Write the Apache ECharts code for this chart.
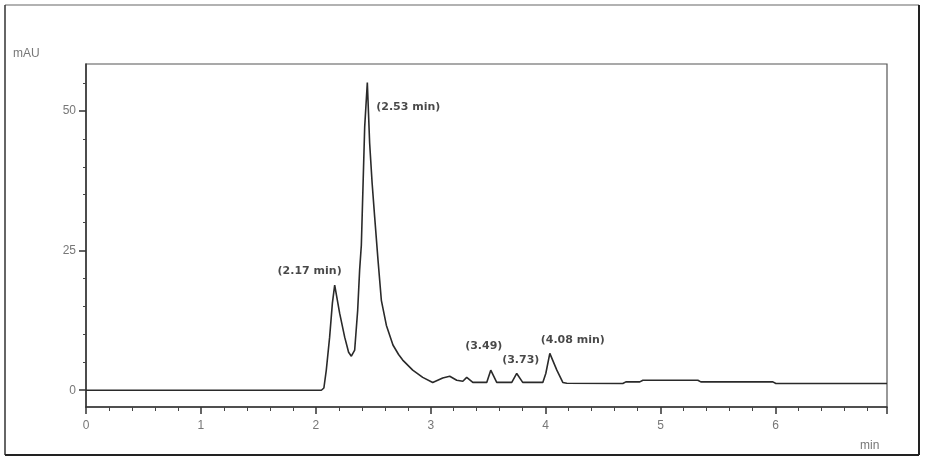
<!DOCTYPE html>
<html>
<head>
<meta charset="utf-8">
<script src="https://cdn.jsdelivr.net/npm/echarts@6/dist/echarts.min.js"></script>
<style>
html,body{margin:0;padding:0;background:#fff;}
#c{width:925px;height:459px;}
</style>
</head>
<body>
<div id="c"></div>
<script>
// Chromatogram trace: time (min) and absorbance (mAU)
var times = [0, 2.048, 2.07, 2.091, 2.12, 2.144, 2.164, 2.207, 2.251, 2.285, 2.309, 2.338, 2.364, 2.381, 2.396, 2.425, 2.448, 2.468, 2.490, 2.512, 2.541, 2.570, 2.614, 2.671, 2.72, 2.756, 2.843, 2.930, 3.017, 3.104, 3.165, 3.226, 3.279, 3.313, 3.366, 3.487, 3.522, 3.574, 3.705, 3.748, 3.800, 3.975, 4.001, 4.036, 4.097, 4.149, 4.184, 4.671, 4.698, 4.819, 4.846, 5.324, 5.350, 5.977, 6.003, 6.970];
var signal = [0, 0, 0.4, 3.6, 9.5, 15.6, 18.8, 13.8, 9.5, 6.8, 6.1, 7.2, 14.3, 21.5, 26.0, 47.1, 55.1, 44.3, 37.0, 31.0, 23.3, 16.1, 11.6, 8.1, 6.4, 5.4, 3.6, 2.3, 1.4, 2.2, 2.5, 1.8, 1.6, 2.3, 1.4, 1.4, 3.6, 1.4, 1.4, 3.0, 1.4, 1.4, 3.0, 6.6, 3.6, 1.4, 1.25, 1.2, 1.5, 1.5, 1.8, 1.8, 1.5, 1.5, 1.2, 1.2];

// Peak annotations
var annTexts = ['(2.17 min)', '(2.53 min)', '(3.49)', '(3.73)', '(4.08 min)'];
var annTimes = [1.946, 2.804, 3.461, 3.783, 4.236];
var annValues = [21.4, 50.6, 7.9, 5.4, 8.9];

// Axis ticks
var xTickInterval = 1;
var yMajorTicks = [0, 25, 50];
var yMinorTicks = [5, 10, 15, 20, 30, 35, 40, 45, 55];

var traceData = times.map(function (t, i) { return [t, signal[i]]; });
var annData = annTexts.map(function (s, i) { return { name: s, value: [annTimes[i], annValues[i]] }; });

var chart = echarts.init(document.getElementById('c'), null, { renderer: 'canvas' });
var axisColor = '#333';
var labelColor = '#777';
chart.setOption({
  animation: false,
  backgroundColor: '#fff',
  grid: {
    left: 86, top: 64, right: 38, bottom: 52,
    show: true, borderColor: '#555', borderWidth: 1.2,
    containLabel: false, outerBoundsMode: 'none'
  },
  xAxis: {
    type: 'value', min: 0, max: 6.97, interval: xTickInterval,
    axisLine: { show: true, onZero: false, lineStyle: { color: axisColor, width: 1.5 } },
    axisTick: { show: true, length: 7, lineStyle: { color: axisColor, width: 1.5 } },
    minorTick: { show: true, splitNumber: 5, length: 4, lineStyle: { color: '#444', width: 1 } },
    splitLine: { show: false },
    minorSplitLine: { show: false },
    axisLabel: { showMaxLabel: false, margin: 13, color: labelColor, fontSize: 12, fontFamily: 'Liberation Sans' }
  },
  yAxis: [{
    type: 'value', min: -3, max: 58.4,
    axisLine: { show: true, lineStyle: { color: axisColor, width: 1.5 } },
    axisTick: { show: true, customValues: yMajorTicks, length: 7, lineStyle: { color: axisColor, width: 1.5 } },
    axisLabel: { customValues: yMajorTicks, margin: 10, color: labelColor, fontSize: 12, fontFamily: 'Liberation Sans' },
    splitLine: { show: false }
  }, {
    type: 'value', min: -3, max: 58.4, position: 'left',
    axisLine: { show: false },
    axisTick: { show: true, customValues: yMinorTicks, length: 3, lineStyle: { color: '#444', width: 1 } },
    axisLabel: { show: false },
    splitLine: { show: false }
  }],
  series: [{
    type: 'line',
    data: traceData,
    showSymbol: false,
    symbol: 'none',
    smooth: false,
    lineStyle: { color: '#2a2a2a', width: 1.6 },
    silent: true,
    z: 3
  }, {
    type: 'scatter',
    data: annData,
    symbolSize: 1,
    itemStyle: { color: 'rgba(0,0,0,0)' },
    silent: true,
    label: {
      show: true, position: 'inside', formatter: '{b}',
      color: '#1a1a1a', fontSize: 11, fontWeight: 'bold', fontFamily: 'DejaVu Sans'
    },
    z: 5
  }],
  graphic: [
    { type: 'line', shape: { x1: 5, y1: 5, x2: 919, y2: 5 }, style: { stroke: '#999', lineWidth: 1.5 } },
    { type: 'line', shape: { x1: 5, y1: 5, x2: 5, y2: 455 }, style: { stroke: '#333', lineWidth: 1.5 } },
    { type: 'line', shape: { x1: 919, y1: 5, x2: 919, y2: 455 }, style: { stroke: '#222', lineWidth: 2 } },
    { type: 'line', shape: { x1: 5, y1: 455, x2: 919, y2: 455 }, style: { stroke: '#222', lineWidth: 2 } },
    { type: 'text', left: 13, top: 48, style: { text: 'mAU', fill: labelColor, font: '12px "Liberation Sans"' } },
    { type: 'text', left: 860, top: 440, style: { text: 'min', fill: labelColor, font: '12px "Liberation Sans"' } }
  ]
});
</script>
</body>
</html>
